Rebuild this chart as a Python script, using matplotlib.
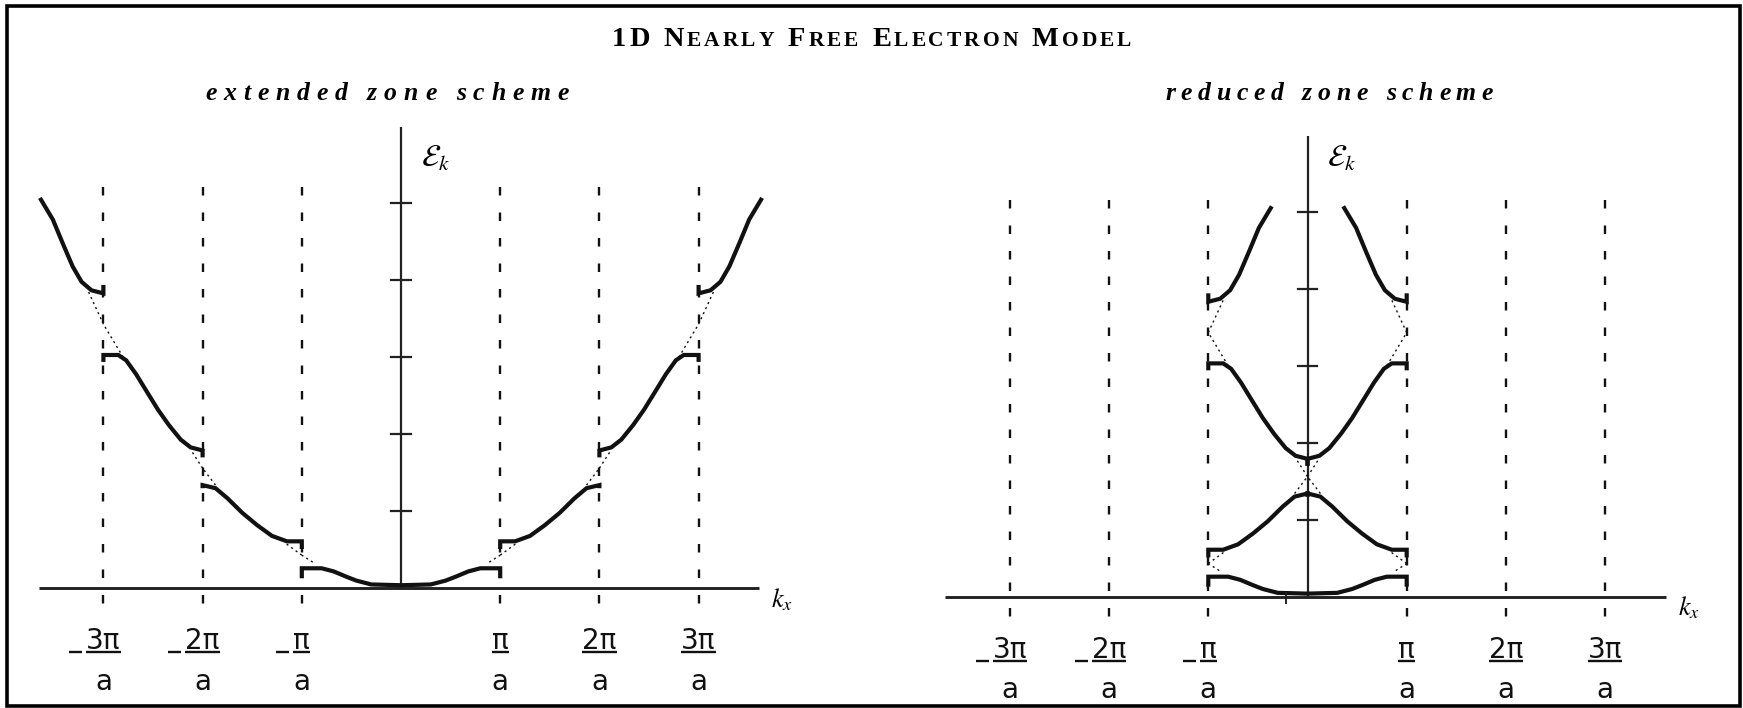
import matplotlib.pyplot as plt
from matplotlib.patches import Rectangle
import numpy as np

# Band pieces for k >= 0 (k in units of pi/a); the k < 0 side is the mirror image.
# Repeated k values at the ends give the short vertical stubs at the zone edges.
zone1_k = [0.0, 0.3, 0.45, 0.55, 0.68, 0.8, 1.0, 1.0]
zone1_E = [0.04, 0.05, 0.10, 0.15, 0.22, 0.26, 0.26, 0.13]
zone2_k = [1.0, 1.0, 1.15, 1.3, 1.45, 1.6, 1.75, 1.87, 2.0, 2.0]
zone2_E = [0.51, 0.61, 0.61, 0.68, 0.82, 0.98, 1.17, 1.30, 1.34, 1.30]
zone3_k = [2.0, 2.0, 2.12, 2.22, 2.34, 2.45, 2.57, 2.67, 2.77, 2.85, 3.0, 3.0]
zone3_E = [1.70, 1.79, 1.83, 1.93, 2.12, 2.32, 2.57, 2.78, 2.96, 3.03, 3.03, 2.94]
zone4_k = [3.0, 3.0, 3.12, 3.22, 3.31, 3.41, 3.51, 3.64]
zone4_E = [3.94, 3.83, 3.87, 3.98, 4.18, 4.48, 4.79, 5.07]

# free electron parabola drawn across each gap
gap_k = [[0.89, 1.0, 1.18], [1.87, 2.0, 2.12], [2.8, 3.0, 3.15]]
gap_E = [[0.34, 0.43, 0.60], [1.34, 1.56, 1.80], [3.0, 3.43, 3.85]]

zone_edges = [1, 2, 3]
edge_labels = ["π", "2π", "3π"]
energy_ticks = [1, 2, 3, 4, 5]

W, H = 1743, 708
PX_K = 99.2   # pixels per pi/a
PX_E = 77.0   # pixels per energy tick

fig = plt.figure(figsize=(W / 100, H / 100), dpi=100)
fig.patch.set_facecolor("white")
renderer = fig.canvas.get_renderer()


def make_axes(x0, x1, ox, oy):
    ax = fig.add_axes([x0 / W, 0, (x1 - x0) / W, 1])
    ax.set_xlim((x0 - ox) / PX_K, (x1 - ox) / PX_K)
    ax.set_ylim((oy - H) / PX_E, oy / PX_E)
    ax.axis("off")
    return ax


def fold_shift(n):
    # translation by a reciprocal lattice vector that brings zone n into the first zone
    return -2 * (n // 2)


def px_to_data(ax, x, y):
    return ax.transData.inverted().transform((x, y))


def draw_panel(ax, reduced, vaxis_top, dash_top, dash_bot, label_E):
    ink = "#111111"
    # axes
    ax.plot([-3.65, 3.61], [0, 0], color="#222222", lw=2.1, solid_capstyle="butt")
    ax.plot([0, 0], [0, vaxis_top], color="#222222", lw=1.6, solid_capstyle="butt")
    for e in energy_ticks:
        ax.plot([-0.1, 0.1], [e, e], color="#222222", lw=1.6)

    # zone boundaries
    for m in zone_edges:
        for k in (-m, m):
            ax.plot([k, k], [dash_top, dash_bot], color=ink, lw=1.7,
                    ls=(0, (3.6, 7.2)), dash_capstyle="butt")

    # bands
    zones = [(zone1_k, zone1_E), (zone2_k, zone2_E), (zone3_k, zone3_E), (zone4_k, zone4_E)]
    for n, (k, E) in enumerate(zones, start=1):
        k = np.array(k)
        s = fold_shift(n) if reduced else 0
        ax.plot(k + s, E, color=ink, lw=3.0, solid_joinstyle="miter", solid_capstyle="butt")
        ax.plot(-k - s, E, color=ink, lw=3.0, solid_joinstyle="miter", solid_capstyle="butt")

    # free electron parabola across the gaps
    for m, (k, E) in enumerate(zip(gap_k, gap_E), start=1):
        k = np.array(k)
        E = np.array(E)
        for part, n in ((k <= m, m), (k >= m, m + 1)):
            s = fold_shift(n) if reduced else 0
            ax.plot(k[part] + s, E[part], color=ink, lw=1.0, ls=(0, (1.5, 2.5)))
            ax.plot(-k[part] - s, E[part], color=ink, lw=1.0, ls=(0, (1.5, 2.5)))

    ax.text(0.2, label_E, r"$\mathcal{E}_{k}$", fontsize=22, ha="left", va="bottom",
            math_fontfamily="stix")
    ax.text(3.73, -0.15, r"$k_x$", fontsize=19, ha="left", va="center",
            math_fontfamily="stix")

    # fractions under the boundaries
    for m, lab in zip(zone_edges, edge_labels):
        for sign in (-1, 1):
            k = sign * m
            num = ax.text(k, -0.79, lab, fontsize=20, ha="center", va="baseline",
                          family="DejaVu Sans", color=ink)
            ax.text(k, -1.32, "a", fontsize=20, ha="center", va="baseline",
                    family="DejaVu Sans", color=ink)
            bb = num.get_window_extent(renderer)
            ybar = ax.transData.transform((0, -0.83))[1]
            xa, ya = px_to_data(ax, bb.x0, ybar)
            xb, _ = px_to_data(ax, bb.x1, ybar)
            ax.plot([xa, xb], [ya, ya], color=ink, lw=1.7, solid_capstyle="butt")
            if sign < 0:
                xm0, _ = px_to_data(ax, bb.x0 - 17, ybar)
                xm1, _ = px_to_data(ax, bb.x0 - 4, ybar)
                ax.plot([xm0, xm1], [ya, ya], color=ink, lw=1.7, solid_capstyle="butt")


def letter_text(x0, x1, y, chunks, space=8, **kw):
    # spreads the letters evenly between x0 and x1 (pixel coords, y from top)
    placed = []
    pos = 0.0
    gaps = 0
    for s, size in chunks:
        for ch in s:
            if ch == " ":
                pos += space
                continue
            t = fig.text(0, (H - y) / H, ch, fontsize=size, ha="left", va="baseline", **kw)
            w = t.get_window_extent(renderer).width
            placed.append((t, pos, gaps))
            pos += w
            gaps += 1
    tracking = ((x1 - x0) - pos) / max(gaps - 1, 1)
    for t, p, g in placed:
        t.set_x((x0 + p + g * tracking) / W)


left = make_axes(0, 871, 401.0, 588.3)
right = make_axes(871, W, 1307.5, 596.7)
draw_panel(left, False, 5.99, 5.216, -0.204, 5.39)
draw_panel(right, True, 5.98, 5.152, -0.264, 5.50)
right.plot([-0.22, -0.22], [0.05, -0.08], color="#222222", lw=1.4)

# title in small capitals
big, small = 20.5, 15.5
letter_text(612, 1131, 46, [("1D", big), (" N", big), ("EARLY", small), (" F", big), ("REE", small),
                            (" E", big), ("LECTRON", small), (" M", big), ("ODEL", small)],
            space=11, family="Liberation Serif", weight="bold")

letter_text(205, 569, 100, [("extended zone scheme", 18.5)], space=13,
            family="Liberation Serif", weight="bold", style="italic")
letter_text(1165, 1493, 100, [("reduced zone scheme", 18.5)], space=13,
            family="Liberation Serif", weight="bold", style="italic")

fig.add_artist(Rectangle((7 / W, 2 / H), 1733 / W, 700 / H, transform=fig.transFigure,
                         fill=False, ec="black", lw=2.6))

fig.savefig("out.png", dpi=100, facecolor="white")
